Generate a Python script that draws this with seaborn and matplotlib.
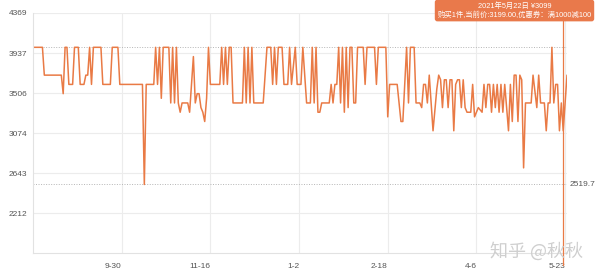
import matplotlib
matplotlib.use("Agg")
import matplotlib.pyplot as plt
from matplotlib.transforms import blended_transform_factory
import pandas as pd
import seaborn as sns

# ---------------- data ----------------
start_date = "2020-08-14"
day_offsets = [
    0, 5, 6, 15, 16, 17, 18, 19, 21, 22, 24, 25, 27, 28, 29, 30, 31, 32, 36, 37,
    41, 42, 45, 46, 58, 59, 60, 64, 65, 66, 67, 68, 69, 72,
    73, 74, 75, 76, 77, 78, 79, 82, 83, 85, 86, 87, 88, 89, 90, 91, 92, 93, 94,
    99, 100, 101, 102, 103, 104, 105, 106, 111, 112, 113, 114, 115, 116, 117, 122,
    124, 126, 127, 128, 129, 130, 132, 133, 135, 136, 137, 139, 140, 142, 143,
    145, 147, 148, 149, 150, 151, 152, 153, 157, 158, 159, 160, 161, 162, 163, 164,
    165, 166, 167, 168, 169, 170, 171, 172, 175, 176, 177, 181, 182, 183, 187, 188,
    189, 193, 195, 196, 198, 199, 200, 202, 203, 205, 206, 207, 208, 209, 210, 212,
    214, 215, 216, 217, 218, 219, 220, 221, 222, 223, 224, 225, 226, 227, 228, 229,
    230, 232, 233, 234, 235, 236, 238, 239, 240, 241, 242, 243, 244, 245, 246, 247,
    248, 249, 250, 251, 252, 253, 254, 255, 256, 257, 258, 259, 260, 261, 264, 265,
    267, 268, 269, 271, 272, 273, 274, 275, 276, 277, 278, 279, 280, 281, 283,
]
prices = [
    3999, 3999, 3699, 3699, 3499, 3999, 3999, 3599, 3599, 3999, 3999, 3599, 3599, 3699, 3699, 3999, 3599, 3999, 3999, 3599,
    3599, 3999, 3999, 3599, 3599, 2519.7, 3599, 3599, 3999, 3599, 3999, 3449, 3999, 3999,
    3399, 3999, 3399, 3999, 3399, 3299, 3399, 3399, 3299, 3899, 3399, 3499, 3499, 3349, 3299, 3199, 3449, 3999, 3599,
    3599, 3999, 3599, 3999, 3599, 3999, 3999, 3399, 3399, 3999, 3399, 3999, 3399, 3999, 3399, 3399,
    3999, 3999, 3599, 3999, 3599, 3999, 3999, 3599, 3599, 3999, 3599, 3999, 3599, 3599, 3999,
    3399, 3399, 3999, 3399, 3999, 3299, 3299, 3399, 3399, 3599, 3399, 3599, 3599, 3999, 3399, 3999,
    3299, 3999, 3349, 3999, 3999, 3399, 3399, 3999, 3999, 3599, 3999, 3999, 3599, 3999, 3999, 3249,
    3599, 3599, 3199, 3199, 3999, 3399, 3999, 3999, 3399, 3399, 3349, 3599, 3599, 3399, 3699, 3099,
    3549, 3699, 3649, 3349, 3649, 3649, 3349, 3649, 3649, 3099, 3599, 3649, 3649, 3349, 3649, 3349,
    3299, 3299, 3599, 3249, 3299, 3349, 3299, 3599, 3349, 3599, 3599, 3299, 3599, 3349, 3599, 3299,
    3599, 3299, 3599, 3349, 3099, 3599, 3199, 3699, 3699, 3199, 3699, 3649, 2699, 3399, 3399, 3699,
    3349, 3699, 3399, 3399, 3099, 3399, 3399, 3999, 3399, 3599, 3599, 3099, 3399, 3099, 3699,
]
tick_dates = ["2020-09-30", "2020-11-16", "2021-01-02", "2021-02-18", "2021-04-06", "2021-05-23"]
tick_labels = ["9-30", "11-16", "1-2", "2-18", "4-6", "5-23"]
y_ticks = [2212, 2643, 3074, 3506, 3937, 4369]
max_price = 3999
min_price = 2519.7
min_label = "2519.7"
tip_date = "2021-05-22"
tip_text = "2021年5月22日 ¥3099\n购买1件,当前价:3199.00,优惠券：满1000减100"
watermark = "知乎 @秋秋"

# ---------------- style ----------------
sns.set_theme(style="white")
plt.rcParams["font.family"] = ["Liberation Sans", "Noto Sans CJK SC", "DejaVu Sans"]

LINE = "#E97A45"
GRID = "#ececec"
TXT = "#555555"

dates = pd.to_datetime(start_date) + pd.to_timedelta(day_offsets, unit="D")
df = pd.DataFrame({"date": dates, "price": prices})

fig = plt.figure(figsize=(6, 2.74), dpi=100)
ax = fig.add_axes([33 / 600, 21 / 274, 534 / 600, 240 / 274])

sns.lineplot(data=df, x="date", y="price", ax=ax, color=LINE, linewidth=1.1)

ax.set_xlim(dates[0], dates[-1])
step = y_ticks[1] - y_ticks[0]
ax.set_ylim(y_ticks[0] - step, y_ticks[-1])

ax.set_yticks(y_ticks)
ax.set_yticklabels([str(v) for v in y_ticks])
ax.set_xticks(pd.to_datetime(tick_dates))
ax.set_xticklabels(tick_labels)
for lab in ax.get_xticklabels():
    lab.set_ha("right")

ax.tick_params(axis="y", length=0, pad=4.3, labelsize=6, colors=TXT)
ax.tick_params(axis="x", length=0, pad=7, labelsize=6, colors=TXT)
ax.set_xlabel("")
ax.set_ylabel("")

ax.grid(True, color=GRID, linewidth=0.8)
ax.set_axisbelow(True)
for side in ["top", "right"]:
    ax.spines[side].set_visible(False)
for side in ["left", "bottom"]:
    ax.spines[side].set_color("#e2e2e2")
    ax.spines[side].set_linewidth(0.8)

# max / min reference lines
ax.axhline(max_price, color="#b5b5b5", linestyle=(0, (1, 1.6)), linewidth=0.7, zorder=1)
ax.axhline(min_price, color="#b5b5b5", linestyle=(0, (1, 1.6)), linewidth=0.7, zorder=1)
trans = blended_transform_factory(ax.transAxes, ax.transData)
ax.text(1.004, min_price, min_label, transform=trans, ha="left", va="center",
        fontsize=6, color=TXT)

# tooltip cursor
ax.axvline(pd.Timestamp(tip_date), ymin=-0.05, ymax=1.035, clip_on=False,
           color=LINE, linewidth=0.9, zorder=5)

fig.text(514.5 / 600, 1 - 10.5 / 274, tip_text, ha="center", va="center",
         fontsize=5.3, color="white", linespacing=1.25,
         family=["Liberation Sans", "Noto Sans CJK SC"],
         bbox=dict(boxstyle="round,pad=0.35,rounding_size=0.35",
                   facecolor="#E9794B", edgecolor="none"))

fig.text(537 / 600, 1 - 251 / 274, watermark, ha="center", va="center",
         fontsize=13, color="#cfcfcf", family=["Noto Sans CJK SC"])

fig.savefig("out.png", dpi=100)
